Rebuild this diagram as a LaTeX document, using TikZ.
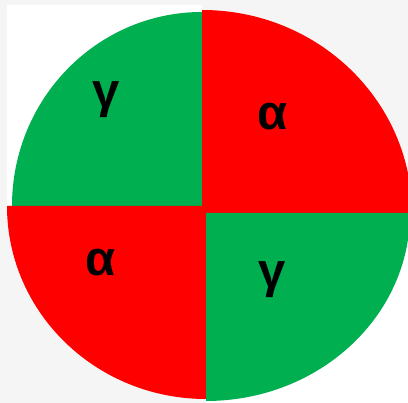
\documentclass[tikz,border=0pt]{standalone}
\usepackage{fontspec}
\setsansfont{Liberation Sans}
\usepackage{tikz}
\definecolor{phasegreen}{HTML}{00AF50}
\definecolor{phasered}{HTML}{FF0000}
\definecolor{slidegray}{HTML}{F5F5F5}

\begin{document}
\begin{tikzpicture}[
    x=1pt, y=1pt,
    phase/.style={font=\sffamily\bfseries\fontsize{49}{49}\selectfont, inner sep=0pt, text=black},
    backing/.style={fill=white}
]
\useasboundingbox (0,0) rectangle (408,403);
\fill[slidegray] (0,0) rectangle (408,403);
\fill[backing] (7,198) rectangle (202,398);
\fill[backing] (206,0) rectangle (408,190);

% the four quarters
\begin{scope}
\clip (0,0) rectangle (408,403);
\fill[phasegreen] (202,197) -- (12,197) arc[start angle=180, end angle=90, x radius=190, y radius=194] -- cycle;
\fill[phasered] (202,190) -- (202,393) arc[start angle=90, end angle=0, x radius=210, y radius=203] -- cycle;
\fill[phasered] (206,197) -- (7,197) arc[start angle=180, end angle=270, x radius=199, y radius=193] -- cycle;
\fill[phasegreen] (206,190) -- (410,190) arc[start angle=0, end angle=-90, x radius=204, y radius=188] -- cycle;
\end{scope}

\node[phase] (gammatl) at (106,303) {γ};
\node[phase] (alphatr) at (273,286) {α};
\node[phase] (alphabl) at (101,140) {α};
\node[phase] (gammabr) at (272,123) {γ};
\end{tikzpicture}
\end{document}
